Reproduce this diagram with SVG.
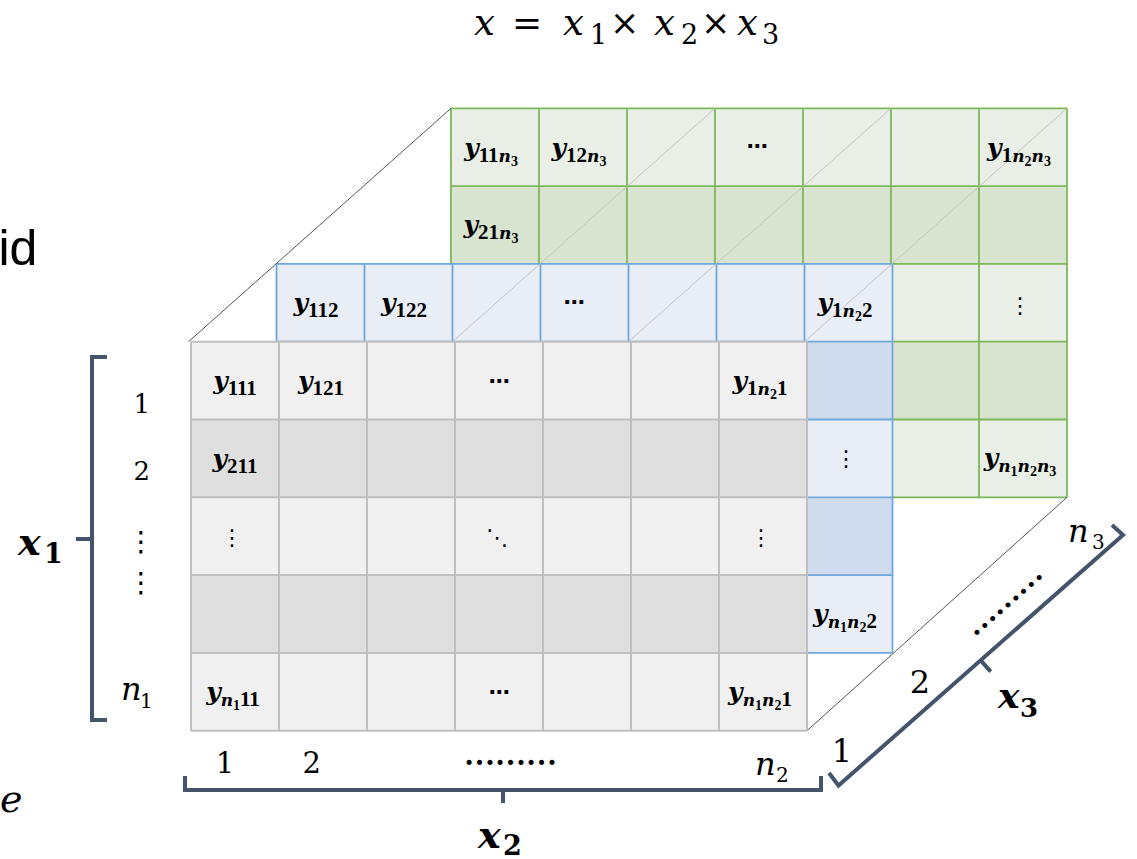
<svg xmlns="http://www.w3.org/2000/svg" width="1137" height="859" viewBox="0 0 1137 859">
<style>
.y{font-family:"DejaVu Serif",serif;font-weight:bold;font-style:italic;font-size:25px}
.sd{font-family:"Liberation Serif",serif;font-weight:bold;font-style:normal;font-size:21px}
.sn{font-family:"DejaVu Serif",serif;font-weight:bold;font-style:italic;font-size:17px}
.ss{font-family:"Liberation Serif",serif;font-weight:bold;font-style:normal;font-size:14px}
.dots{font-family:"DejaVu Sans",sans-serif;font-weight:bold;font-size:21px;text-anchor:middle}
.vd{font-family:"DejaVu Sans",sans-serif;font-size:22px;text-anchor:middle}
.c{text-anchor:middle}
.mi{font-family:"DejaVu Serif",serif;font-style:italic}
.mb{font-family:"DejaVu Serif",serif;font-style:italic;font-weight:bold}
.num{font-family:"DejaVu Serif",serif}
.numb{font-family:"DejaVu Serif",serif;font-weight:bold}
.op{font-family:"DejaVu Serif",serif}
.grid-f{fill:none;stroke:#BFBFBF;stroke-width:2}
.grid-b{fill:none;stroke:#6FA8DC;stroke-width:1.8}
.grid-g{fill:none;stroke:#7CB85A;stroke-width:1.8}
.depth{fill:none;stroke:#BDBDBD;stroke-width:0.8}
.edge{fill:none;stroke:#555555;stroke-width:1}
.brk{fill:none;stroke:#44546A;stroke-width:4;stroke-linejoin:miter}
</style>
<rect width="1137" height="859" fill="#FFFFFF"/>

<text x="-1.5" y="265" style="font-family:'Liberation Sans',sans-serif;font-size:50px">id</text>
<text x="0" y="812" class="mi" style="font-size:38px">e</text>

<g id="title">
<text y="35"><tspan class="mi" x="474" style="font-size:37px">x</tspan><tspan class="op" x="512" style="font-size:36px">=</tspan><tspan class="mi" x="563" style="font-size:37px">x</tspan><tspan class="num" x="590" y="44" style="font-size:27px">1</tspan><tspan class="op" x="610" y="35" style="font-size:35px">×</tspan><tspan class="mi" x="654" style="font-size:37px">x</tspan><tspan class="num" x="681" y="44" style="font-size:27px">2</tspan><tspan class="op" x="701" y="35" style="font-size:35px">×</tspan><tspan class="mi" x="737" style="font-size:37px">x</tspan><tspan class="num" x="762" y="44" style="font-size:27px">3</tspan></text>
</g>

<g id="layer-n3">
<rect x="451" y="108.3" width="616" height="77.8" fill="#E9EFE6"/>
<rect x="451" y="186.1" width="616" height="77.8" fill="#D8E4D0"/>
<rect x="891" y="263.9" width="176" height="77.8" fill="#E9EFE6"/>
<rect x="891" y="341.7" width="176" height="77.8" fill="#D8E4D0"/>
<rect x="891" y="419.5" width="176" height="77.8" fill="#E9EFE6"/>
<path class="grid-g" d="M451 108.3H1067M451 186.1H1067M451 263.9H1067M891 341.7H1067M891 419.5H1067M891 497.3H1067M451 108.3V263.9M539 108.3V263.9M627 108.3V263.9M715 108.3V263.9M803 108.3V263.9M891 108.3V497.3M979 108.3V497.3M1067 108.3V497.3"/>
</g>

<g id="layer-2">
<rect x="276.5" y="263.9" width="616" height="77.8" fill="#E9EDF6"/>
<rect x="804.5" y="341.7" width="88" height="77.8" fill="#D0DCEE"/>
<rect x="804.5" y="419.5" width="88" height="77.8" fill="#E9EDF6"/>
<rect x="804.5" y="497.3" width="88" height="77.8" fill="#D0DCEE"/>
<rect x="804.5" y="575.1" width="88" height="77.8" fill="#E9EDF6"/>
<path class="grid-b" d="M276.5 263.9H892.5M276.5 341.7H892.5M804.5 419.5H892.5M804.5 497.3H892.5M804.5 575.1H892.5M804.5 652.9H892.5M276.5 263.9V341.7M364.5 263.9V341.7M452.5 263.9V341.7M540.5 263.9V341.7M628.5 263.9V341.7M716.5 263.9V341.7M804.5 263.9V652.9M892.5 263.9V652.9"/>
</g>

<g id="connectors">
<path class="depth" d="M452.5 341.7L715 108.3M628.5 341.7L891 108.3M804.5 341.7L1067 108.3"/>
<path class="edge" d="M188.5 341.7L451 108.3M807 730.7L1067 497.3"/>
</g>

<g id="layer-1">
<rect x="191" y="341.7" width="616" height="77.8" fill="#F0F0F0"/>
<rect x="191" y="419.5" width="616" height="77.8" fill="#DFDFDF"/>
<rect x="191" y="497.3" width="616" height="77.8" fill="#F0F0F0"/>
<rect x="191" y="575.1" width="616" height="77.8" fill="#DFDFDF"/>
<rect x="191" y="652.9" width="616" height="77.8" fill="#F0F0F0"/>
<path class="grid-f" d="M191 341.7H807M191 419.5H807M191 497.3H807M191 575.1H807M191 652.9H807M191 730.7H807M191 341.7V730.7M279 341.7V730.7M367 341.7V730.7M455 341.7V730.7M543 341.7V730.7M631 341.7V730.7M719 341.7V730.7M807 341.7V730.7"/>
</g>

<g id="labels-n3">
<text class="c" x="491" y="155.5"><tspan class="y">y</tspan><tspan class="sd" dy="6">11</tspan><tspan class="sn">n</tspan><tspan class="ss" dy="4">3</tspan></text>
<text class="c" x="579" y="155.5"><tspan class="y">y</tspan><tspan class="sd" dy="6">12</tspan><tspan class="sn">n</tspan><tspan class="ss" dy="4">3</tspan></text>
<text class="dots" x="757" y="153">⋯</text>
<text class="c" x="1019" y="155.5"><tspan class="y">y</tspan><tspan class="sd" dy="6">1</tspan><tspan class="sn">n</tspan><tspan class="ss" dy="4">2</tspan><tspan class="sn" dy="-4">n</tspan><tspan class="ss" dy="4">3</tspan></text>
<text class="c" x="491" y="233"><tspan class="y">y</tspan><tspan class="sd" dy="6">21</tspan><tspan class="sn">n</tspan><tspan class="ss" dy="4">3</tspan></text>
<text class="vd" x="1020" y="313">⋮</text>
<text class="c" x="1020" y="466"><tspan class="y">y</tspan><tspan class="sn" dy="6">n</tspan><tspan class="ss" dy="4">1</tspan><tspan class="sn" dy="-4">n</tspan><tspan class="ss" dy="4">2</tspan><tspan class="sn" dy="-4">n</tspan><tspan class="ss" dy="4">3</tspan></text>
</g>

<g id="labels-2">
<text class="c" x="316" y="311"><tspan class="y">y</tspan><tspan class="sd" dy="6">112</tspan></text>
<text class="c" x="404" y="311"><tspan class="y">y</tspan><tspan class="sd" dy="6">122</tspan></text>
<text class="dots" x="574" y="309">⋯</text>
<text class="c" x="845" y="311"><tspan class="y">y</tspan><tspan class="sd" dy="6">1</tspan><tspan class="sn">n</tspan><tspan class="ss" dy="4">2</tspan><tspan class="sd" dy="-4">2</tspan></text>
<text class="vd" x="846" y="466">⋮</text>
<text class="c" x="845" y="622"><tspan class="y">y</tspan><tspan class="sn" dy="6">n</tspan><tspan class="ss" dy="4">1</tspan><tspan class="sn" dy="-4">n</tspan><tspan class="ss" dy="4">2</tspan><tspan class="sd" dy="-4">2</tspan></text>
</g>

<g id="labels-1">
<text class="c" x="235" y="389"><tspan class="y">y</tspan><tspan class="sd" dy="6">111</tspan></text>
<text class="c" x="321" y="389"><tspan class="y">y</tspan><tspan class="sd" dy="6">121</tspan></text>
<text class="dots" x="499" y="388">⋯</text>
<text class="c" x="760" y="389"><tspan class="y">y</tspan><tspan class="sd" dy="6">1</tspan><tspan class="sn">n</tspan><tspan class="ss" dy="4">2</tspan><tspan class="sd" dy="-4">1</tspan></text>
<text class="c" x="235" y="466.5"><tspan class="y">y</tspan><tspan class="sd" dy="6">211</tspan></text>
<text class="vd" x="232" y="545">⋮</text>
<text class="vd" x="497" y="545">⋱</text>
<text class="vd" x="761" y="545">⋮</text>
<text class="c" x="233" y="700"><tspan class="y">y</tspan><tspan class="sn" dy="6">n</tspan><tspan class="ss" dy="4">1</tspan><tspan class="sd" dy="-4">11</tspan></text>
<text class="dots" x="499" y="699">⋯</text>
<text class="c" x="760" y="700"><tspan class="y">y</tspan><tspan class="sn" dy="6">n</tspan><tspan class="ss" dy="4">1</tspan><tspan class="sn" dy="-4">n</tspan><tspan class="ss" dy="4">2</tspan><tspan class="sd" dy="-4">1</tspan></text>
</g>

<g id="axis-x1">
<path class="brk" d="M107 357H92V720H107M76 539H92"/>
<text class="num c" x="141.7" y="413" style="font-size:26px">1</text>
<text class="num c" x="141.7" y="480" style="font-size:26px">2</text>
<text class="vd" x="141" y="551" style="font-size:28px">⋮</text>
<text class="vd" x="141" y="592" style="font-size:28px">⋮</text>
<text y="700"><tspan class="mi" x="121" style="font-size:32px">n</tspan><tspan class="num" x="140" y="708" style="font-size:20px">1</tspan></text>
<text y="555"><tspan class="mb" x="18" style="font-size:38px">x</tspan><tspan class="numb" x="44" y="563" style="font-size:27px">1</tspan></text>
</g>

<g id="axis-x2">
<path class="brk" d="M185 776V790H821V776M503 790V803"/>
<text class="num c" x="225" y="773" style="font-size:29px">1</text>
<text class="num c" x="311.7" y="773" style="font-size:29px">2</text>
<text x="464" y="765" style="font-family:'Liberation Serif',serif;font-weight:bold;font-size:31px">………</text>
<text y="775"><tspan class="mi" x="755" style="font-size:32px">n</tspan><tspan class="num" x="776" y="782" style="font-size:20px">2</tspan></text>
<text y="848"><tspan class="mb" x="478" style="font-size:38px">x</tspan><tspan class="numb" x="503" y="855" style="font-size:27px">2</tspan></text>
</g>

<g id="axis-x3">
<path class="brk" d="M829 773L838.5 785.5L1123 535L1112 525M980.7 660.3L990.7 671.6"/>
<text class="num c" x="842" y="762" style="font-size:32px">1</text>
<text class="num c" x="920" y="693" style="font-size:32px">2</text>
<text class="c" x="1008" y="607" transform="rotate(-41.4 1008 605)" style="font-family:'Liberation Serif',serif;font-weight:bold;font-size:31px">………</text>
<text y="542"><tspan class="mi" x="1068" style="font-size:32px">n</tspan><tspan class="num" x="1092" y="549" style="font-size:20px">3</tspan></text>
<text y="708"><tspan class="mb" x="998" style="font-size:36px">x</tspan><tspan class="numb" x="1020" y="717" style="font-size:26px">3</tspan></text>
</g>
</svg>
